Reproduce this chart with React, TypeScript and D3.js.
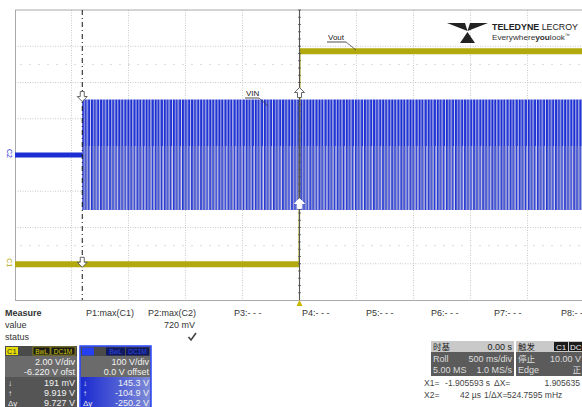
import React from 'react';
import * as d3 from 'd3';

const W = 582;
const H = 407;

// C1 (Vout) — volts versus time (s)
const c1Time = [-2.5, -0.003, 0.003, 2.5];
const c1Volts = [0.19, 0.19, 11.95, 11.95];
// C2 (VIN) before the input is applied
const c2FlatTime = [-2.5, -1.9056];
const c2FlatVolts = [0, 0];
// C2 (VIN) AC envelope after the input is applied
const vinTime = [-1.9056, 2.5];
const vinMax = [153, 153];
const vinMid = [25, 25];
const vinMin = [-152, -152];

const cursorTimes = [-1.905593, 0.000042];
const gridTimes = [-2, -1.5, -1, -0.5, 0.5, 1, 1.5, 2];
const gridVolts = [-300, -200, -100, 0, 100, 200, 300];

const measureHeaders = ['P1:max(C1)', 'P2:max(C2)', 'P3:- - -', 'P4:- - -', 'P5:- - -', 'P6:- - -', 'P7:- - -', 'P8:- -'];
const measureValues = ['', '720 mV', '', '', '', '', '', ''];
const c1Info = ['2.00 V/div', '-6.220 V ofst'];
const c1Cursor = ['191 mV', '9.919 V', '9.727 V'];
const c2Info = ['100 V/div', '0.0 V offset'];
const c2Cursor = ['145.3 V', '-104.9 V', '-250.2 V'];
const cursorSyms = ['↓', '↑', 'Δy'];

const FONT = '"Liberation Sans", Arial, sans-serif';
const CJK = '"Noto Sans CJK SC", "Liberation Sans", sans-serif';
const YEL = '#b1a90e';
const BLUE = '#1b2ed4';

function DownArrow({ cx, top }: { cx: number; top: number }) {
  const p = `M${cx - 2},${top} L${cx + 2},${top} L${cx + 2},${top + 5} L${cx + 5},${top + 5} L${cx},${top + 10} L${cx - 5},${top + 5} L${cx - 2},${top + 5} Z`;
  return <path d={p} fill="#fff" stroke="#555" strokeWidth={0.9} />;
}
function UpArrow({ cx, top, fill = '#fff', stroke = '#555' }: { cx: number; top: number; fill?: string; stroke?: string }) {
  const p = `M${cx},${top} L${cx + 5},${top + 5} L${cx + 2},${top + 5} L${cx + 2},${top + 10} L${cx - 2},${top + 10} L${cx - 2},${top + 5} L${cx - 5},${top + 5} Z`;
  return <path d={p} fill={fill} stroke={stroke} strokeWidth={0.9} />;
}

export default function App() {
  const x = d3.scaleLinear().domain([-2.5, 2.5]).range([14.5, 584.5]);
  const yC1 = d3.scaleLinear().domain([-1.78, 14.22]).range([300, 10]);
  const yC2 = d3.scaleLinear().domain([-400, 400]).range([300, 10]);

  const c1Thin = d3.line<number>().x((_, i) => x(c1Time[i])).y((d) => yC1(d))(c1Volts) || '';
  const flatSegs: [number, number][] = [];
  for (let i = 0; i < c1Volts.length - 1; i++) {
    if (c1Volts[i] === c1Volts[i + 1]) flatSegs.push([i, i + 1]);
  }
  const c2Line = d3.line<number>().x((_, i) => x(c2FlatTime[i])).y((d) => yC2(d))(c2FlatVolts) || '';
  const upperArea = d3.area<number>().x((_, i) => x(vinTime[i])).y0((_, i) => yC2(vinMid[i])).y1((d) => yC2(d))(vinMax) || '';
  const lowerArea = d3.area<number>().x((_, i) => x(vinTime[i])).y0((d) => yC2(d)).y1((_, i) => yC2(vinMid[i]))(vinMin) || '';

  const x1 = x(cursorTimes[0]);
  const x2 = x(cursorTimes[1]);
  const tickYs = d3.range(10, 300, 7.25);

  const measureX = [86, 148, 234, 302, 366, 431, 494, 561];

  return (
    <div style={{ position: 'fixed', left: 0, top: 0, width: W, height: H, background: '#fff' }}>
      <svg width={W} height={H} style={{ display: 'block' }} fontFamily={FONT}>
        <defs>
          <pattern id="pa" patternUnits="userSpaceOnUse" width={9.1} height={10}>
            <rect x={0} y={0} width={9.1} height={10} fill="#cfd2ec" />
            <rect x={0} y={0} width={2.1} height={10} fill={BLUE} />
            <rect x={3.0} y={0} width={1.8} height={10} fill="#1a2bd0" />
            <rect x={5.9} y={0} width={2.3} height={10} fill="#2235d6" />
          </pattern>
          <pattern id="pb" patternUnits="userSpaceOnUse" width={9.1} height={10}>
            <rect x={0} y={0} width={9.1} height={10} fill="#e6e8f6" />
            <rect x={0} y={0} width={1.7} height={10} fill="#2134d2" />
            <rect x={1.7} y={0} width={0.8} height={10} fill="#7e85c6" />
            <rect x={3.0} y={0} width={1.4} height={10} fill="#1d30d0" />
            <rect x={4.4} y={0} width={1.0} height={10} fill="#8a90c8" />
            <rect x={6.0} y={0} width={1.8} height={10} fill="#2537d2" />
            <rect x={7.8} y={0} width={0.6} height={10} fill="#9499cc" />
          </pattern>
          <linearGradient id="c2g" x1="0" x2="1" y1="0" y2="0">
            <stop offset="0" stopColor="#1a2bd0" />
            <stop offset="1" stopColor="#7d8ad8" />
          </linearGradient>
          <clipPath id="plot">
            <rect x={15} y={10} width={570} height={290} />
          </clipPath>
        </defs>

        {/* grid */}
        {gridTimes.map((t) => (
          <line key={'gv' + t} x1={x(t)} x2={x(t)} y1={10} y2={300} stroke="#bdbdbd" strokeWidth={0.8} strokeDasharray="1,1.5" />
        ))}
        {gridVolts.map((v) => (
          <line key={'gh' + v} x1={15} x2={585} y1={yC2(v)} y2={yC2(v)} stroke="#bdbdbd" strokeWidth={0.8} strokeDasharray="1,1.5" />
        ))}
        {[250, -250].map((v) => (
          <line key={'gm' + v} x1={20} x2={585} y1={yC2(v)} y2={yC2(v)} stroke="#d2d2d2" strokeWidth={0.8} strokeDasharray="2,7" />
        ))}
        <line x1={15} x2={585} y1={10} y2={10} stroke="#aaa" strokeWidth={1} />
        <line x1={15} x2={585} y1={300.5} y2={300.5} stroke="#aaa" strokeWidth={1} />
        <line x1={15.5} x2={15.5} y1={10} y2={300} stroke="#aaa" strokeWidth={1} />

        <g clipPath="url(#plot)">
          <path d={c2Line} fill="none" stroke={BLUE} strokeWidth={5} />
          <path d={upperArea} fill="url(#pa)" />
          <path d={lowerArea} fill="url(#pb)" />
          <path d={c1Thin} fill="none" stroke={YEL} strokeWidth={1.5} />
          {flatSegs.map(([a, b]) => (
            <line key={'c1s' + a} x1={x(c1Time[a])} x2={x(c1Time[b])} y1={yC1(c1Volts[a])} y2={yC1(c1Volts[b])} stroke={YEL} strokeWidth={6} />
          ))}
        </g>

        {/* cursors */}
        <line x1={x1} x2={x1} y1={10} y2={300} stroke="#111" strokeWidth={1} strokeDasharray="5,3,1,3" />
        <line x1={x2} x2={x2} y1={10} y2={300} stroke="#555" strokeWidth={1.1} />
        {tickYs.map((ty) => (
          <line key={'tk' + ty} x1={x2 - 1.5} x2={x2 + 1.5} y1={ty} y2={ty} stroke="#555" strokeWidth={0.8} />
        ))}
        <DownArrow cx={x1} top={yC2(vinMax[0]) - 8} />
        <DownArrow cx={x1} top={yC1(c1Volts[0]) - 7} />
        <UpArrow cx={x2} top={yC2(vinMax[0]) - 12} />
        <UpArrow cx={x2} top={yC2(-120)} fill="#fff" stroke="#fff" />
        <path d={`M${x2},300 l3,6 l-6,0 Z`} fill="#c8b800" />

        {/* trace labels */}
        <text x={246} y={96} fontSize={8} fill="#222">VIN</text>
        <line x1={245} x2={259} y1={98} y2={98} stroke="#222" strokeWidth={0.8} />
        <line x1={259} x2={268} y1={98} y2={106} stroke="#333" strokeWidth={0.7} />
        <text x={328} y={40} fontSize={8} fill="#222">Vout</text>
        <line x1={327} x2={346} y1={42} y2={42} stroke="#222" strokeWidth={0.8} />
        <line x1={346} x2={356} y1={42} y2={50} stroke="#333" strokeWidth={0.7} />

        <text transform={`translate(7,${yC2(0) - 6}) rotate(90)`} fontSize={7} fill={BLUE}>C2</text>
        <text transform={`translate(7,${yC1(0.19) - 6}) rotate(90)`} fontSize={7} fill={YEL}>C1</text>

        {/* logo */}
        <g fill="#222">
          <path d="M447,23 L465,23 L467.5,31 Z" />
          <path d="M488,23 L470,23 L467.5,31 Z" />
          <path d="M467.5,32 L460,43 L475,43 Z" />
        </g>
        <text x={492} y={30} fontSize={9.5} fill="#222" textLength={86} lengthAdjust="spacingAndGlyphs">
          <tspan fontWeight="bold">TELEDYNE</tspan>
          <tspan> LECROY</tspan>
        </text>
        <text x={492} y={40} fontSize={8} fill="#333" textLength={78} lengthAdjust="spacingAndGlyphs">
          <tspan>Everywhere</tspan>
          <tspan fontWeight="bold">you</tspan>
          <tspan>look</tspan>
          <tspan fontSize={5} dy={-3}>™</tspan>
        </text>

        {/* measure table */}
        <text x={5} y={316} fontSize={9} fontWeight="bold" fill="#333">Measure</text>
        <text x={5} y={328} fontSize={9} fill="#333">value</text>
        <text x={5} y={340} fontSize={9} fill="#333">status</text>
        {measureHeaders.map((h, i) => (
          <text key={h + i} x={measureX[i]} y={316} fontSize={9} fill="#333">{h}</text>
        ))}
        {measureValues.map((v, i) =>
          v ? (
            <text key={'mv' + i} x={195} y={328} fontSize={9} fill="#333" textAnchor="end">{v}</text>
          ) : null
        )}
        <path d="M188.5,337 L191,340 L196,333" fill="none" stroke="#444" strokeWidth={1.6} />

        {/* C1 box */}
        <rect x={5} y={346} width={72} height={61} fill="#6b6b6b" />
        <rect x={5} y={346} width={72} height={10} fill="#4a4a4a" />
        <rect x={6} y={347} width={12} height={8} fill="#e4dc00" />
        <text x={7} y={354} fontSize={7.5} fill="#333">C1</text>
        <rect x={33} y={347} width={17} height={8} fill="#1b1b1b" stroke="#b8b000" strokeWidth={0.6} />
        <text x={41.5} y={354} fontSize={6.5} fill="#d6ce00" textAnchor="middle">BwL</text>
        <rect x={51} y={347} width={24} height={8} fill="#1b1b1b" stroke="#b8b000" strokeWidth={0.6} />
        <text x={63} y={354} fontSize={6.5} fill="#d6ce00" textAnchor="middle">DC1M</text>
        <rect x={5} y={377} width={72} height={30} fill="#555" />
        {c1Info.map((t, i) => (
          <text key={'c1i' + i} x={75} y={365 + i * 10} fontSize={9} fill="#f2f2f2" textAnchor="end">{t}</text>
        ))}
        {c1Cursor.map((t, i) => (
          <g key={'c1c' + i}>
            <text x={8} y={386 + i * 10} fontSize={8} fill="#eee">{cursorSyms[i]}</text>
            <text x={75} y={386 + i * 10} fontSize={9} fill="#f2f2f2" textAnchor="end">{t}</text>
          </g>
        ))}

        {/* C2 box */}
        <rect x={80} y={346} width={71} height={61} fill="#6b6b6b" stroke="#2a46ff" strokeWidth={1.5} />
        <rect x={81} y={347} width={69} height={9} fill="#4a4a4a" />
        <rect x={82} y={347.5} width={12} height={8} fill="#2440f0" />
        <rect x={106} y={347.5} width={19} height={8} fill="#101a60" />
        <rect x={126} y={347.5} width={23} height={8} fill="#101a60" />
        <text x={115.5} y={354} fontSize={6.5} fill="#3048e0" textAnchor="middle">BwL</text>
        <text x={137.5} y={354} fontSize={6.5} fill="#3048e0" textAnchor="middle">DC1M</text>
        <rect x={81} y={377} width={69} height={30} fill="url(#c2g)" />
        {c2Info.map((t, i) => (
          <text key={'c2i' + i} x={149} y={365 + i * 10} fontSize={9} fill="#f2f2f2" textAnchor="end">{t}</text>
        ))}
        {c2Cursor.map((t, i) => (
          <g key={'c2c' + i}>
            <text x={83} y={386 + i * 10} fontSize={8} fill="#eee">{cursorSyms[i]}</text>
            <text x={149} y={386 + i * 10} fontSize={9} fill="#f2f2f2" textAnchor="end">{t}</text>
          </g>
        ))}

        {/* timebase box */}
        <rect x={431} y={341} width={83} height={11} fill="#c9c9c9" />
        <rect x={431} y={352} width={83} height={24} fill="#5b5b5b" />
        <text x={433} y={350} fontSize={8.5} fill="#222" fontFamily={CJK}>时基</text>
        <text x={512} y={350} fontSize={9} fill="#222" textAnchor="end">0.00 s</text>
        <text x={433} y={362} fontSize={9} fill="#ddd">Roll</text>
        <text x={512} y={362} fontSize={9} fill="#ddd" textAnchor="end">500 ms/div</text>
        <text x={433} y={373} fontSize={9} fill="#ddd">5.00 MS</text>
        <text x={512} y={373} fontSize={9} fill="#ddd" textAnchor="end">1.0 MS/s</text>

        {/* trigger box */}
        <rect x={516} y={341} width={70} height={11} fill="#c9c9c9" />
        <rect x={516} y={352} width={70} height={24} fill="#5b5b5b" />
        <text x={518} y={350} fontSize={8.5} fill="#222" fontFamily={CJK}>触发</text>
        <rect x={554} y={342} width={14} height={9} fill="#1b1b1b" />
        <text x={561} y={350} fontSize={8} fill="#eee" textAnchor="middle">C1</text>
        <rect x={569} y={342} width={16} height={9} fill="#1b1b1b" />
        <text x={570} y={350} fontSize={8} fill="#eee">DC</text>
        <text x={518} y={362} fontSize={8.5} fill="#ddd" fontFamily={CJK}>停止</text>
        <text x={581} y={362} fontSize={9} fill="#ddd" textAnchor="end">10.00 V</text>
        <text x={518} y={373} fontSize={9} fill="#ddd">Edge</text>
        <text x={581} y={373} fontSize={8.5} fill="#ddd" textAnchor="end" fontFamily={CJK}>正</text>

        {/* cursor readouts */}
        <text x={424} y={386} fontSize={8.5} fill="#444">X1=</text>
        <text x={490} y={386} fontSize={8.5} fill="#444" textAnchor="end">-1.905593 s</text>
        <text x={494} y={386} fontSize={8.5} fill="#444">ΔX=</text>
        <text x={580} y={386} fontSize={8.5} fill="#444" textAnchor="end">1.905635</text>
        <text x={424} y={398} fontSize={8.5} fill="#444">X2=</text>
        <text x={481} y={398} fontSize={8.5} fill="#444" textAnchor="end">42 µs</text>
        <text x={484} y={398} fontSize={8.5} fill="#444">1/ΔX=</text>
        <text x={507} y={398} fontSize={8.5} fill="#444">524.7595 mHz</text>
      </svg>
    </div>
  );
}
